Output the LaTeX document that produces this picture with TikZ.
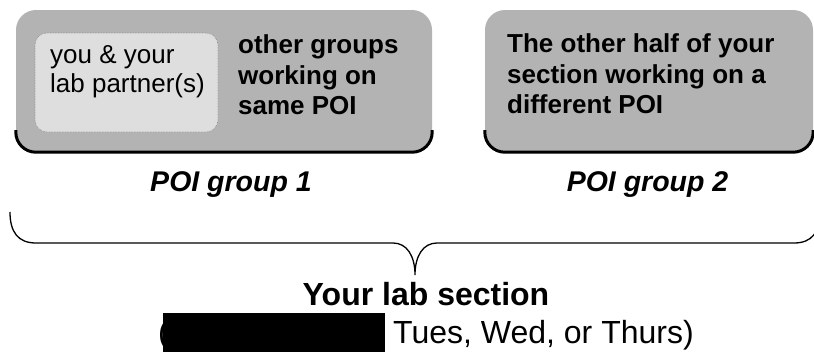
\documentclass[tikz,border=0pt]{standalone}
\usepackage{fontspec}
\setmainfont{Liberation Sans}
\definecolor{groupgray}{HTML}{B3B3B3}
\definecolor{teamgray}{HTML}{DEDEDE}
\definecolor{dotgray}{HTML}{8C8C8C}
\begin{document}
\begin{tikzpicture}[x=1pt,y=-1pt,
  groupbox/.style={fill=groupgray, rounded corners=20pt, inner sep=0pt},
  teambox/.style={fill=teamgray, draw=dotgray, densely dotted, line width=0.6pt,
    rounded corners=12pt, inner sep=0pt},
  bottomedge/.style={draw=black, line width=3pt, rounded corners=20pt},
  bodytext/.style={inner sep=0pt, anchor=base west, font=\fontsize{26}{31}\selectfont},
  boldtext/.style={bodytext, font=\fontsize{26}{31}\selectfont\bfseries},
  grouplabel/.style={inner sep=0pt, anchor=base, font=\fontsize{28.5}{33}\selectfont\bfseries\itshape},
  sectiontext/.style={inner sep=0pt, font=\fontsize{32}{38}\selectfont},
  brace/.style={draw=black, line width=1.3pt}
]
\clip (0,0) rectangle (814,351);
\fill[white] (0,0) rectangle (814,351);

% POI group 1
\node[groupbox, minimum width=416pt, minimum height=142pt] (g1) at (224,81) {};
\draw[bottomedge] ([yshift=22pt]g1.south west) -- (g1.south west)
  -- (g1.south east) -- ([yshift=22pt]g1.south east);
\node[teambox, minimum width=183pt, minimum height=99pt] (team) at (126.5,82.5) {};
\node[bodytext] (you1) at (50,63) {you \& your};
\node[bodytext] (you2) at (50,92) {lab partner(s)};
\node[boldtext] (oth1) at (238,53) {other groups};
\node[boldtext] (oth2) at (238,84) {working on};
\node[boldtext] (oth3) at (238,114.5) {same POI};
\node[grouplabel] (lab1) at (231,191) {POI group 1};

% POI group 2
\node[groupbox, minimum width=328pt, minimum height=142pt] (g2) at (649,81) {};
\draw[bottomedge] ([yshift=22pt]g2.south west) -- (g2.south west)
  -- (g2.south east) -- ([yshift=22pt]g2.south east);
\node[boldtext] (half1) at (507,52.5) {The other half of your};
\node[boldtext] (half2) at (507,83) {section working on a};
\node[boldtext] (half3) at (507,113) {different POI};
\node[grouplabel] (lab2) at (647.5,191) {POI group 2};

% brace spanning both groups
\coordinate (bl) at (10,212);
\coordinate (br) at (820,212);
\coordinate (tip) at (415,275);
\draw[brace] (bl) .. controls (10,232) and (18,243) .. (36,243)
  -- (393,243) .. controls (407,243) and (415,256) .. (tip)
  .. controls (415,256) and (423,243) .. (437,243)
  -- (794,243) .. controls (812,243) and (820,232) .. (br);

% lab section caption
\node[sectiontext, anchor=base, font=\fontsize{32}{38}\selectfont\bfseries] (sec) at (426,305) {Your lab section};
\node[sectiontext, anchor=base west] (paren) at (158,343) {(};
\node[sectiontext, anchor=base west] (days) at (393,343) {Tues, Wed, or Thurs)};
\fill[black] (163,313) rectangle (385,352);
\end{tikzpicture}
\end{document}
